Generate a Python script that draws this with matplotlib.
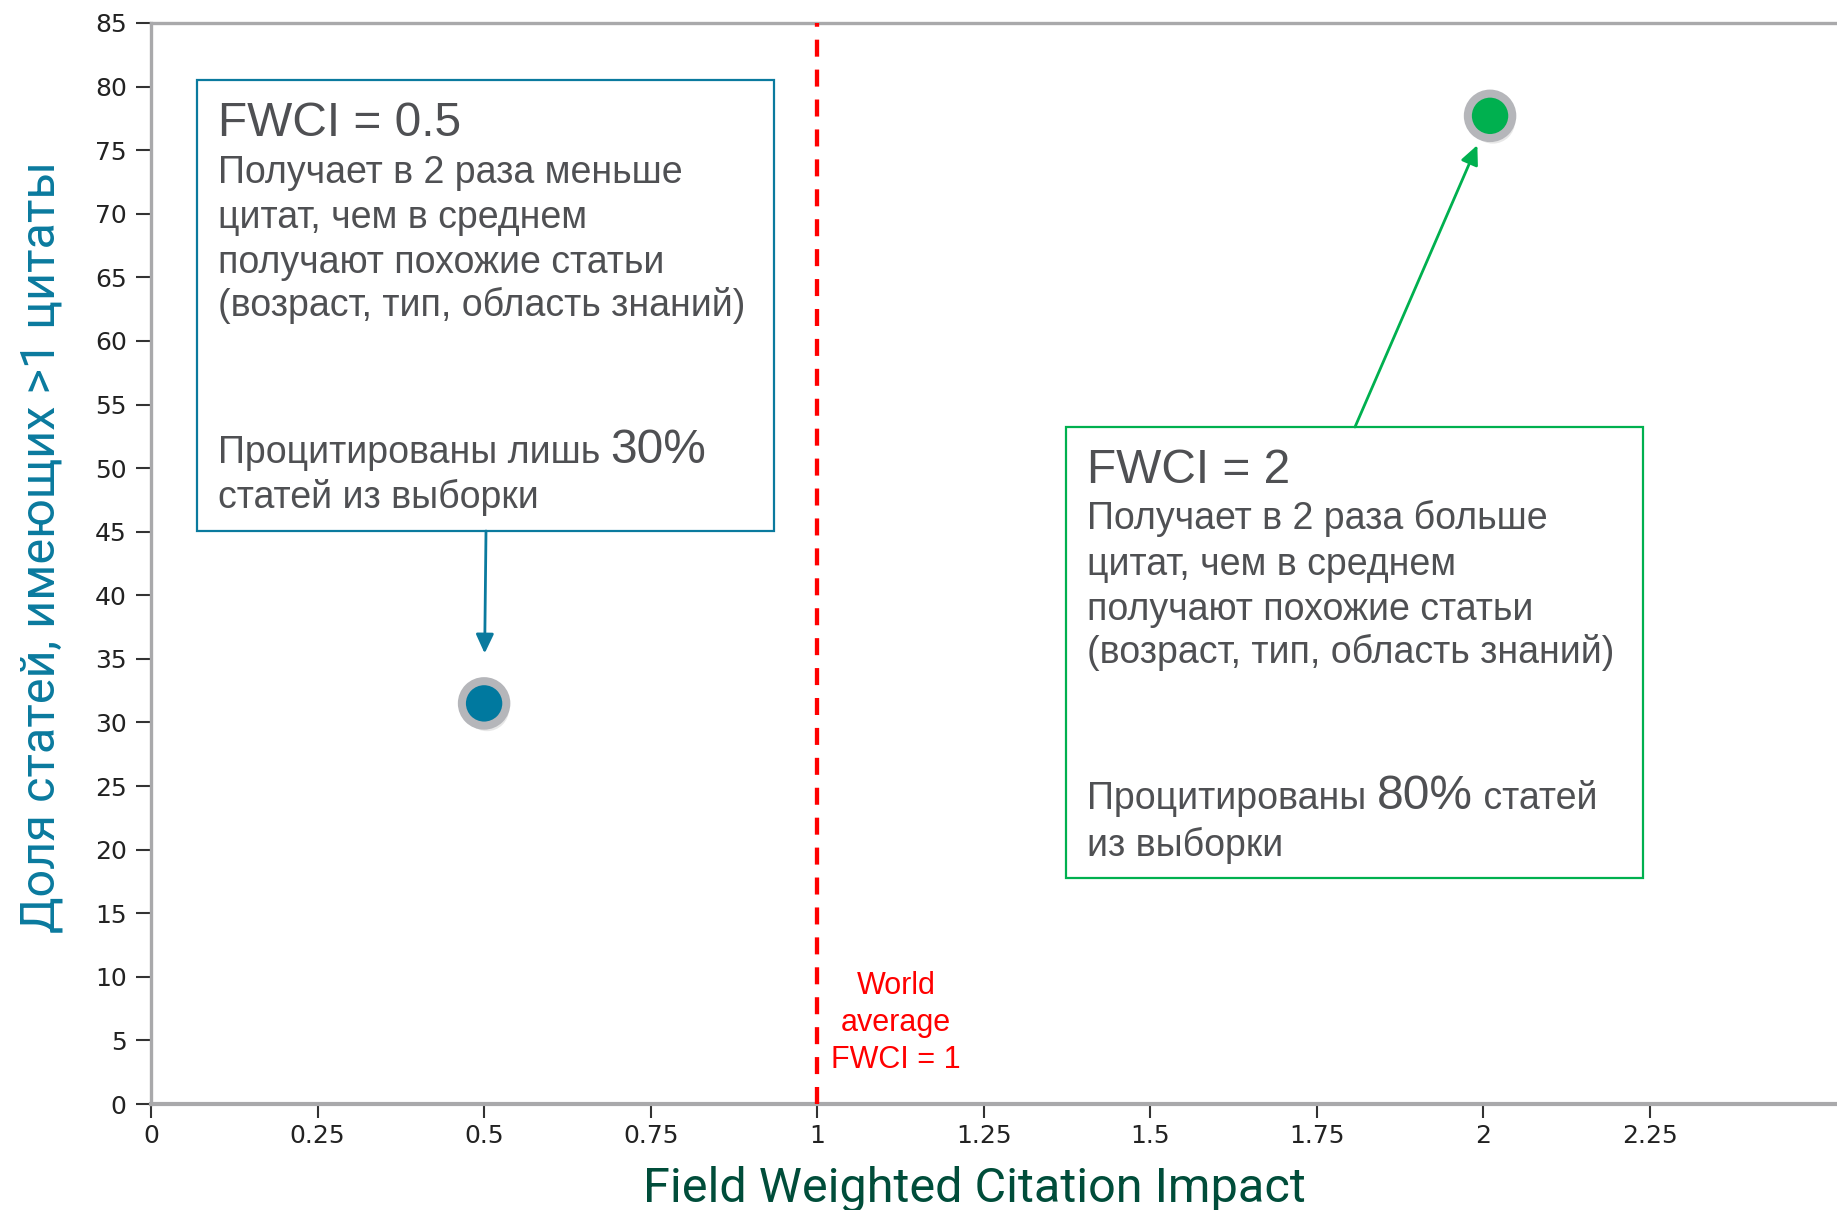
import matplotlib
matplotlib.use("Agg")
import matplotlib.pyplot as plt
from matplotlib.patches import Rectangle
import matplotlib.patheffects as pe

# ---- data ----
x_ticks = [0, 0.25, 0.5, 0.75, 1, 1.25, 1.5, 1.75, 2, 2.25]
x_tick_labels = ["0", "0.25", "0.5", "0.75", "1", "1.25", "1.5", "1.75", "2", "2.25"]
y_ticks = list(range(0, 90, 5))
point_x = [0.5, 2.01]
point_y = [31.5, 77.7]
point_colors = ["#00799F", "#00B04F"]
world_avg = 1.0

x_label = "Field Weighted Citation Impact"
y_label = "Доля статей, имеющих >1 цитаты"
world_text = "World\naverage\nFWCI = 1"

box1_title = "FWCI = 0.5"
box1_lines = ["Получает в 2 раза меньше", "цитат, чем в среднем",
              "получают похожие статьи", "(возраст, тип, область знаний)"]
box1_pre, box1_pct, box1_post, box1_last = "Процитированы лишь ", "30%", "", "статей из выборки"

box2_title = "FWCI = 2"
box2_lines = ["Получает в 2 раза больше", "цитат, чем в среднем",
              "получают похожие статьи", "(возраст, тип, область знаний)"]
box2_pre, box2_pct, box2_post, box2_last = "Процитированы ", "80%", " статей", "из выборки"

# ---- figure ----
W, H = 1837, 1210
fig = plt.figure(figsize=(W / 100, H / 100), dpi=100)
ax_l, ax_r, ax_t, ax_b = 151, 1837, 23, 1104
ax = fig.add_axes([ax_l / W, 1 - ax_b / H, (ax_r - ax_l) / W, (ax_b - ax_t) / H])
ax.set_xlim(0, (ax_r - ax_l) / 666.2)
ax.set_ylim(0, 85)


def fx(px):
    return (px - ax_l) / (ax_r - ax_l)


def fy(py):
    return (ax_b - py) / (ax_b - ax_t)


spine_col = "#A9A9AB"
for s in ["left", "bottom", "top"]:
    ax.spines[s].set_color(spine_col)
ax.spines["left"].set_linewidth(2.4)
ax.spines["top"].set_linewidth(2.4)
ax.spines["bottom"].set_linewidth(3.0)
ax.spines["right"].set_visible(False)

ax.set_xticks(x_ticks)
ax.set_xticklabels(x_tick_labels)
ax.set_yticks(y_ticks)
ax.tick_params(axis="y", length=11, width=1.5, color="#333333", pad=6.5,
               labelsize=18, labelcolor="#222222")
ax.tick_params(axis="x", length=10, width=1.5, color="#333333", pad=4.5,
               labelsize=18, labelcolor="#222222")

label_font = ["Roboto", "DejaVu Sans"]
ax.set_xlabel(x_label, fontsize=35, color="#004D3A", family=label_font)
ax.xaxis.set_label_coords(fx(974), fy(1202))
ax.xaxis.label.set_va("baseline")
ax.set_ylabel(y_label, fontsize=35, color="#0A7A9E", family=label_font)
ax.yaxis.set_label_coords(fx(42), fy(547))
ax.yaxis.label.set_va("center")

# world average line
ax.plot([world_avg, world_avg], [0, 85], color="#FF0000", lw=3.1,
        dashes=(3.95, 3.0), zorder=3, solid_capstyle="butt")
ax.text(world_avg + 0.1186, 6.37, world_text, color="#FF0000", fontsize=22,
        family=["Liberation Sans", "DejaVu Sans"], ha="center", va="center",
        linespacing=1.29)

# points with ring and shadow
for px, py, c in zip(point_x, point_y, point_colors):
    ax.plot([px], [py], "o", ms=32, mfc=c, mec="#B5B6BA", mew=5.8, zorder=5,
            path_effects=[pe.SimplePatchShadow(offset=(2, -4), shadow_rgbFace="#888888", alpha=0.2),
                          pe.SimplePatchShadow(offset=(1, -2), shadow_rgbFace="#888888", alpha=0.28),
                          pe.Normal()])

text_font = ["Liberation Sans", "DejaVu Sans"]
txt_col = "#4F5053"
body_fs = 27
big_fs = 34.5


def draw_box(x0, y0, x1, y1, color, tx, title_base, line_bases, pct_base, last_base,
             title, lines, pre, pct, post, last):
    ax.add_patch(Rectangle((fx(x0), fy(y1)), fx(x1) - fx(x0), fy(y0) - fy(y1),
                           transform=ax.transAxes, fill=False, ec=color, lw=1.6, zorder=4))
    ax.text(fx(tx), fy(title_base), title, transform=ax.transAxes, fontsize=big_fs,
            color=txt_col, family=text_font, va="baseline", ha="left", zorder=6)
    for ln, b in zip(lines, line_bases):
        ax.text(fx(tx), fy(b), ln, transform=ax.transAxes, fontsize=body_fs,
                color=txt_col, family=text_font, va="baseline", ha="left", zorder=6)
    t1 = ax.text(fx(tx), fy(pct_base), pre, transform=ax.transAxes, fontsize=body_fs,
                 color=txt_col, family=text_font, va="baseline", ha="left", zorder=6)
    t2 = ax.annotate(pct, xy=(1, fy(pct_base)), xycoords=(t1, ax.transAxes),
                     fontsize=big_fs, color=txt_col, family=text_font, va="baseline",
                     ha="left", zorder=6)
    if post:
        ax.annotate(post, xy=(1, fy(pct_base)), xycoords=(t2, ax.transAxes),
                    fontsize=body_fs, color=txt_col, family=text_font, va="baseline",
                    ha="left", zorder=6)
    ax.text(fx(tx), fy(last_base), last, transform=ax.transAxes, fontsize=body_fs,
            color=txt_col, family=text_font, va="baseline", ha="left", zorder=6)


draw_box(197, 80, 774, 531, "#0A7A9E", 218, 136, [183, 228, 273, 316], 463, 508,
         box1_title, box1_lines, box1_pre, box1_pct, box1_post, box1_last)
draw_box(1066, 427, 1643, 878, "#00B04F", 1087, 483, [529, 575, 620, 663], 809, 856,
         box2_title, box2_lines, box2_pre, box2_pct, box2_post, box2_last)

# arrows from boxes to points
ax.annotate("", xy=(point_x[0], point_y[0]), xycoords="data",
            xytext=(fx(486), fy(531)), textcoords="axes fraction",
            arrowprops=dict(arrowstyle="-|>,head_length=0.58,head_width=0.27",
                            mutation_scale=20, color="#0A7A9E", lw=2.0,
                            shrinkA=0, shrinkB=36),
            zorder=4)
ax.annotate("", xy=(point_x[1], point_y[1]), xycoords="data",
            xytext=(fx(1355), fy(427)), textcoords="axes fraction",
            arrowprops=dict(arrowstyle="-|>,head_length=0.58,head_width=0.27",
                            mutation_scale=20, color="#00B04F", lw=2.0,
                            shrinkA=0, shrinkB=23),
            zorder=4)

fig.savefig("out.png", dpi=100)
